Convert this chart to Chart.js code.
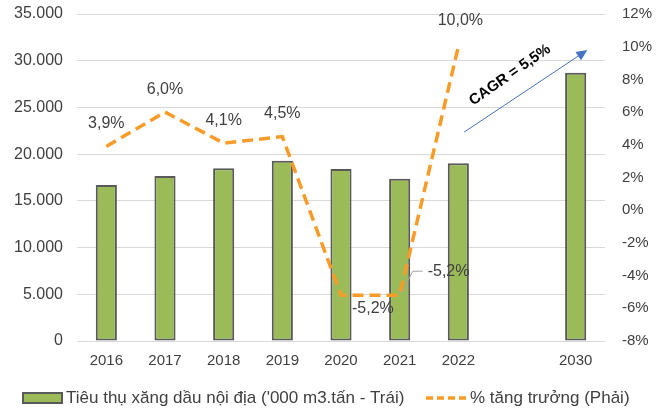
<!DOCTYPE html>
<html>
<head>
<meta charset="utf-8">
<script src="https://cdn.jsdelivr.net/npm/chart.js@4.4.0/dist/chart.umd.min.js"></script>
<style>
html, body { margin: 0; padding: 0; background: #fff; }
#wrap { width: 667px; height: 410px; position: relative; }
</style>
</head>
<body>
<div id="wrap"><canvas id="myChart"></canvas></div>
<script>
// Datos del gráfico
const years = ['2016', '2017', '2018', '2019', '2020', '2021', '2022', '', '2030'];
const consumption = [16700, 17650, 18480, 19300, 18400, 17370, 19020, null, 28720];
const growth = [3.9, 6.0, 4.1, 4.5, -5.2, -5.2, 10.0, null, null];
const consumptionLabel = "Tiêu thụ xăng dầu nội địa ('000 m3.tấn - Trái)";
const growthLabel = '% tăng trưởng (Phải)';
const cagrText = 'CAGR = 5,5%';

const FONT = '"Liberation Sans", Arial, sans-serif';
const TEXT = '#404040';
const GREEN = '#9BBB59';
const BAR_BORDER = '#595959';
const ORANGE = '#F99B28';

// Posición de cada etiqueta respecto a su punto
const labelOffsets = {
    4: { dx: 11, dy: 13, align: 'left' },
    5: { dx: 28, dy: -24, align: 'left', leader: true },
    6: { dx: 2, dy: -26, align: 'center' }
};

function fmtPct(v) {
    return v.toFixed(1).replace('.', ',') + '%';
}

// Etiquetas de la línea
const labelPlugin = {
    id: 'labels',
    afterDatasetsDraw(chart) {
        const ctx = chart.ctx;
        const meta = chart.getDatasetMeta(1);
        ctx.save();
        ctx.font = '16px ' + FONT;
        ctx.fillStyle = TEXT;
        ctx.textBaseline = 'middle';
        meta.data.forEach((pt, i) => {
            const v = growth[i];
            if (v === null || v === undefined) return;
            const o = labelOffsets[i] || { dx: 0, dy: -23, align: 'center' };
            const x = pt.x + o.dx;
            const y = pt.y + o.dy;
            if (o.leader) {
                ctx.strokeStyle = '#a6a6a6';
                ctx.lineWidth = 1;
                ctx.beginPath();
                ctx.moveTo(pt.x + 2, pt.y - 2);
                ctx.lineTo(pt.x + 13, y);
                ctx.lineTo(x - 5, y);
                ctx.stroke();
            }
            ctx.textAlign = o.align;
            ctx.fillText(fmtPct(v), x, y);
        });
        ctx.restore();
    }
};

// Flecha CAGR y leyenda
const extrasPlugin = {
    id: 'extras',
    afterDraw(chart) {
        const ctx = chart.ctx;
        const xs = chart.scales.x;
        const ys = chart.scales.y1;
        const x0 = xs.getPixelForValue(6.1), y0 = ys.getPixelForValue(4.78);
        const x1 = xs.getPixelForValue(8.2), y1 = ys.getPixelForValue(9.8);
        const ang = Math.atan2(y1 - y0, x1 - x0);
        ctx.save();
        ctx.strokeStyle = '#4472C4';
        ctx.fillStyle = '#4472C4';
        ctx.lineWidth = 1;
        ctx.beginPath();
        ctx.moveTo(x0, y0);
        ctx.lineTo(x1 - 8 * Math.cos(ang), y1 - 8 * Math.sin(ang));
        ctx.stroke();
        ctx.beginPath();
        ctx.moveTo(x1, y1);
        ctx.lineTo(x1 - 11 * Math.cos(ang) + 5 * Math.sin(ang), y1 - 11 * Math.sin(ang) - 5 * Math.cos(ang));
        ctx.lineTo(x1 - 11 * Math.cos(ang) - 5 * Math.sin(ang), y1 - 11 * Math.sin(ang) + 5 * Math.cos(ang));
        ctx.closePath();
        ctx.fill();

        // texto CAGR
        const tx = xs.getPixelForValue(6.88), ty = ys.getPixelForValue(8.27);
        ctx.translate(tx, ty);
        ctx.rotate(-35 * Math.PI / 180);
        ctx.font = 'bold 15px ' + FONT;
        ctx.fillStyle = '#000';
        ctx.textAlign = 'center';
        ctx.textBaseline = 'middle';
        ctx.fillText(cagrText, 0, 0);
        ctx.restore();

        // leyenda
        ctx.save();
        const ly = 398;
        ctx.fillStyle = GREEN;
        ctx.strokeStyle = BAR_BORDER;
        ctx.lineWidth = 2;
        ctx.fillRect(23, ly - 5, 39, 10);
        ctx.strokeRect(23, ly - 5, 39, 10);
        ctx.font = '17px ' + FONT;
        ctx.fillStyle = TEXT;
        ctx.textAlign = 'left';
        ctx.textBaseline = 'middle';
        ctx.fillText(consumptionLabel, 66, ly);
        const lx = 426;
        ctx.strokeStyle = ORANGE;
        ctx.lineWidth = 3.5;
        ctx.setLineDash([7, 4]);
        ctx.beginPath();
        ctx.moveTo(lx, ly);
        ctx.lineTo(lx + 40, ly);
        ctx.stroke();
        ctx.setLineDash([]);
        ctx.fillText(growthLabel, lx + 44, ly);
        ctx.restore();
    }
};

// Ajuste fijo de los ejes verticales
function fitVertical(width) {
    return s => {
        s.width = width;
        s.paddingTop = 14;
        s.paddingBottom = 0;
    };
}

const ctx = document.getElementById('myChart').getContext('2d');
const chart = new Chart(ctx, {
    type: 'bar',
    data: {
        labels: years,
        datasets: [{
            type: 'bar',
            label: consumptionLabel,
            data: consumption,
            backgroundColor: GREEN,
            borderColor: BAR_BORDER,
            borderWidth: 2,
            borderSkipped: false,
            barPercentage: 0.36,
            categoryPercentage: 1,
            yAxisID: 'y',
            order: 2
        }, {
            type: 'line',
            label: growthLabel,
            data: growth,
            borderColor: ORANGE,
            borderWidth: 3.5,
            borderDash: [11, 6],
            pointRadius: 0,
            tension: 0,
            fill: false,
            spanGaps: false,
            yAxisID: 'y1',
            order: 1
        }]
    },
    options: {
        responsive: true,
        maintainAspectRatio: false,
        animation: false,
        layout: { padding: 0 },
        plugins: {
            legend: { display: false },
            tooltip: { enabled: false }
        },
        scales: {
            x: {
                grid: { display: false },
                border: { display: false },
                ticks: { color: TEXT, font: { family: FONT, size: 15 }, padding: 3, maxRotation: 0 },
                afterFit: s => { s.height = 69; }
            },
            y: {
                position: 'left',
                min: 0,
                max: 35000,
                ticks: {
                    stepSize: 5000,
                    color: TEXT,
                    font: { family: FONT, size: 16 },
                    padding: 14,
                    callback: v => v.toLocaleString('de-DE')
                },
                grid: { color: '#d9d9d9', lineWidth: 1, drawTicks: false },
                border: { display: false },
                afterFit: fitVertical(77)
            },
            y1: {
                position: 'right',
                min: -8,
                max: 12,
                ticks: {
                    stepSize: 2,
                    color: TEXT,
                    font: { family: FONT, size: 15 },
                    padding: 17,
                    callback: v => v + '%'
                },
                grid: { display: false, drawTicks: false },
                border: { display: false },
                afterFit: fitVertical(62)
            }
        }
    },
    plugins: [labelPlugin, extrasPlugin]
});
</script>
</body>
</html>
